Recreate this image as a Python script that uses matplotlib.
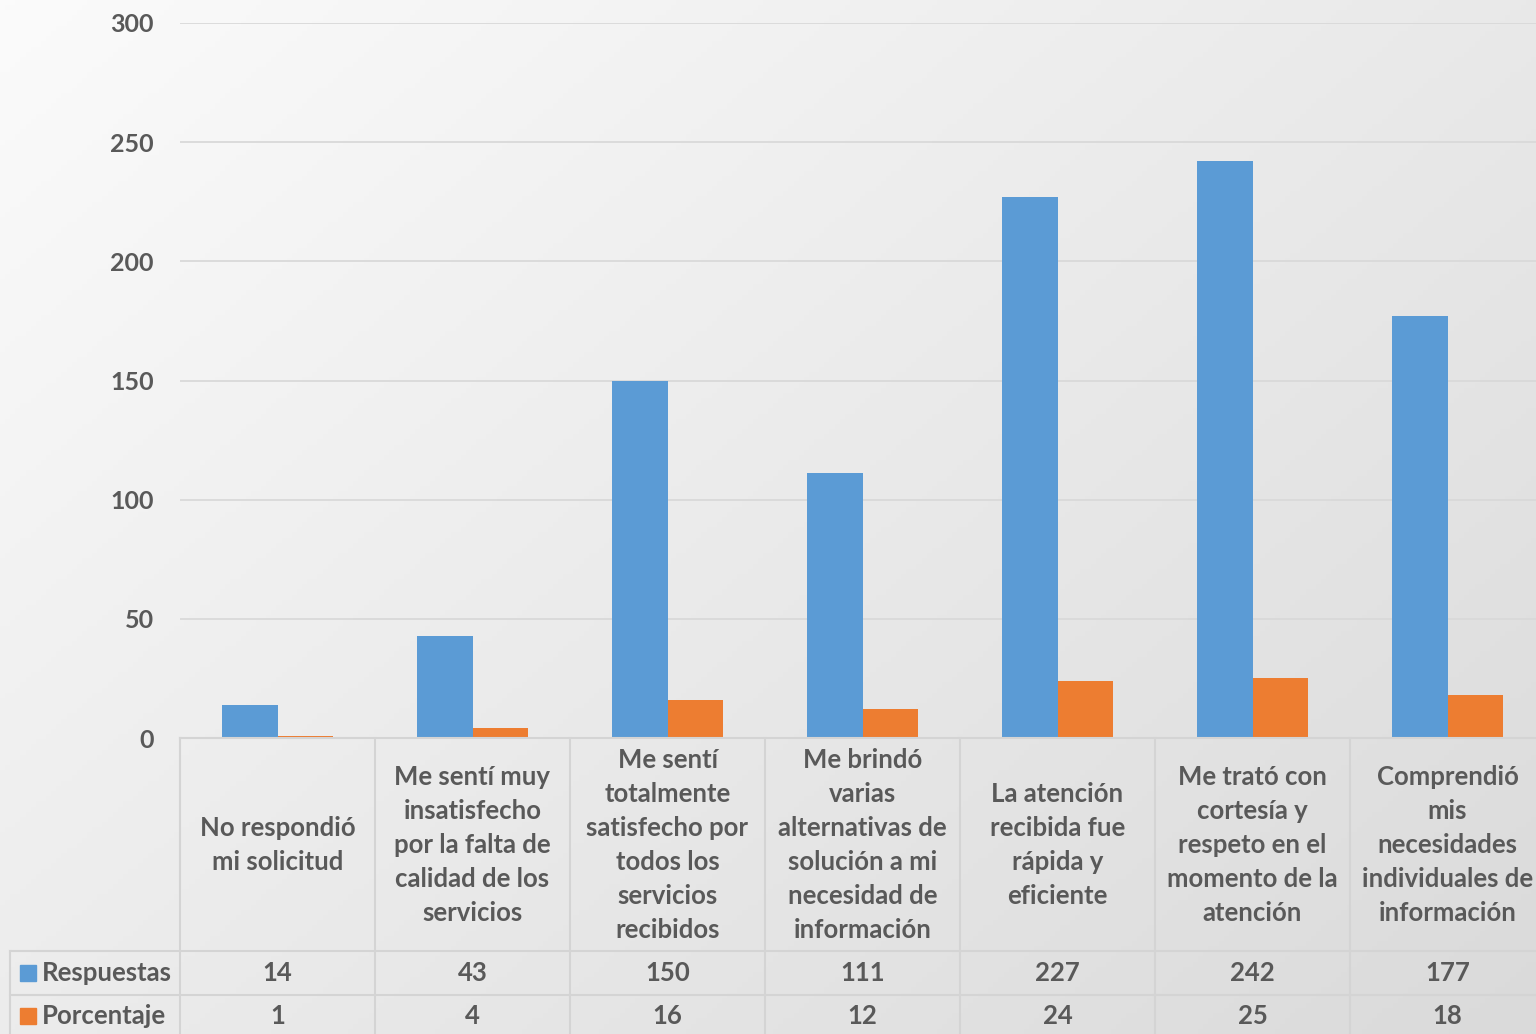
import numpy as np
import matplotlib
matplotlib.use("Agg")
import matplotlib.pyplot as plt
from matplotlib.transforms import blended_transform_factory
from matplotlib.lines import Line2D
from matplotlib.patches import Rectangle

plt.rcParams["font.family"] = ["Lato", "DejaVu Sans"]
plt.rcParams["font.weight"] = "bold"

W, H = 1536, 1034
TEXT = "#595959"
BLUE = "#5b9bd5"
ORANGE = "#ed7d31"
GRID = "#d9d9d9"
FS = 18.5

categories = [
    "No respondió\nmi solicitud",
    "Me sentí muy\ninsatisfecho\npor la falta de\ncalidad de los\nservicios",
    "Me sentí\ntotalmente\nsatisfecho por\ntodos los\nservicios\nrecibidos",
    "Me brindó\nvarias\nalternativas de\nsolución a mi\nnecesidad de\ninformación",
    "La atención\nrecibida fue\nrápida y\neficiente",
    "Me trató con\ncortesía y\nrespeto en el\nmomento de la\natención",
    "Comprendió\nmis\nnecesidades\nindividuales de\ninformación",
]
respuestas = [14, 43, 150, 111, 227, 242, 177]
porcentaje = [1, 4, 16, 12, 24, 25, 18]
series_names = ["Respuestas", "Porcentaje"]
yticks = [0, 50, 100, 150, 200, 250, 300]

fig = plt.figure(figsize=(W / 100, H / 100), dpi=100)

# background gradient (white top-left -> light grey bottom-right)
bg = fig.add_axes([0, 0, 1, 1], zorder=-10)
gx, gy = np.meshgrid(np.linspace(0, 1, 300), np.linspace(0, 1, 200))
grad = (gx * 0.55 + gy * 0.45)
bg.imshow(grad, cmap=matplotlib.colors.LinearSegmentedColormap.from_list(
    "bg", ["#fbfbfb", "#dadada"]), aspect="auto", extent=[0, 1, 0, 1],
    origin="upper", vmin=0, vmax=1)
bg.axis("off")

def fx(px):
    return px / W

def fy(px):
    return 1 - px / H

cat_w = 195
left_px, right_px = 180, 180 + cat_w * len(categories)
top_px, base_px = 23, 738
ax = fig.add_axes([fx(left_px), fy(base_px), (right_px - left_px) / W,
                   (base_px - top_px) / H])
ax.patch.set_alpha(0)

x = np.arange(len(categories))
bw = 1 / 3.5
ax.bar(x - bw / 2, respuestas, width=bw, color=BLUE, zorder=3)
ax.bar(x + bw / 2, porcentaje, width=bw, color=ORANGE, zorder=3)

ax.set_xlim(-0.5, len(categories) - 0.5)
ax.set_ylim(0, 300)
ax.set_yticks(yticks)
ax.set_yticklabels([str(t) for t in yticks], fontsize=18, color=TEXT,
                   fontweight="bold")
ax.tick_params(axis="y", length=0, pad=19)
ax.set_xticks([])
ax.grid(axis="y", color=GRID, linewidth=1.3, zorder=0)
for s in ax.spines.values():
    s.set_visible(False)

# data table
tr = blended_transform_factory(ax.transData, fig.transFigure)
row1, row2 = 951, 995
lc = "#d4d4d4"
lw = 1.5
# horizontal lines
fig.add_artist(Line2D([fx(left_px), 1.05], [fy(base_px)] * 2, color=lc, lw=lw))
for yy in (row1, row2):
    fig.add_artist(Line2D([fx(10), 1.05], [fy(yy)] * 2, color=lc, lw=lw))
# vertical lines
for i in range(len(categories) + 1):
    xp = left_px + i * cat_w
    fig.add_artist(Line2D([fx(xp)] * 2, [fy(base_px), 0], color=lc, lw=lw))
fig.add_artist(Line2D([fx(10)] * 2, [fy(row1), 0], color=lc, lw=lw))

for i, lab in enumerate(categories):
    fig.text(i, fy(845), lab, transform=tr, ha="center", va="center",
             fontsize=FS, color=TEXT, fontweight="bold", linespacing=1.51)
    fig.text(i, fy(973), str(respuestas[i]), transform=tr,
             ha="center", va="center", fontsize=FS, color=TEXT,
             fontweight="bold")
    fig.text(i, fy(1016), str(porcentaje[i]), transform=tr,
             ha="center", va="center", fontsize=FS, color=TEXT,
             fontweight="bold")

for name, col, yy in zip(series_names, [BLUE, ORANGE], [973, 1016]):
    fig.add_artist(Rectangle((fx(20), fy(yy + 8)), fx(16), 16 / H,
                             color=col))
    fig.text(fx(42), fy(yy), name, ha="left", va="center", fontsize=FS,
             color=TEXT, fontweight="bold")

fig.savefig("out.png", dpi=100)
